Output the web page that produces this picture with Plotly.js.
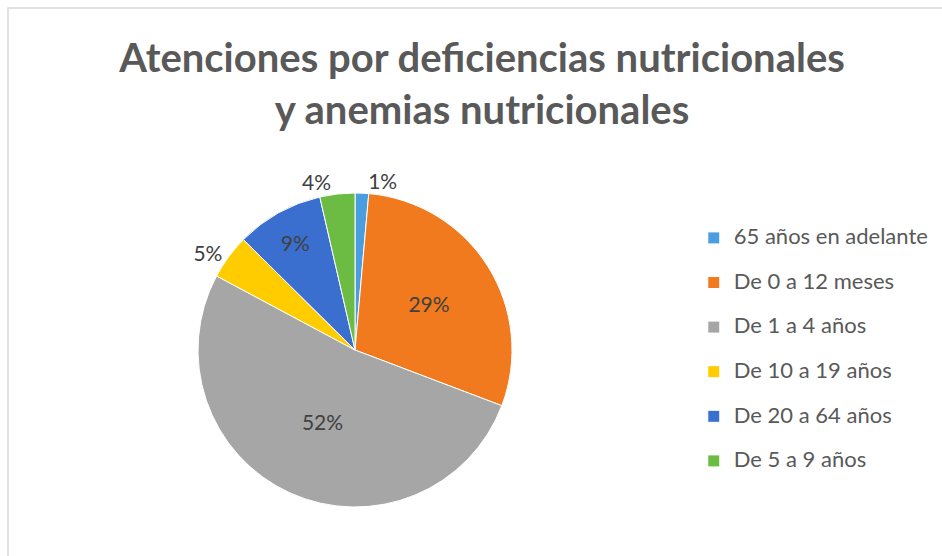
<!DOCTYPE html>
<html>
<head>
  <meta charset="utf-8">
  <title>Atenciones por deficiencias nutricionales</title>
<script src="https://cdn.jsdelivr.net/npm/plotly.js-dist@3.0.1/plotly.min.js"></script>
  <style>body { margin: 0; }</style>
</head>
<body>
  <div id="graph"></div>
  <script>
    // slices, clockwise from 12 o'clock
    const grupos = ['65 años en adelante', 'De 0 a 12 meses', 'De 1 a 4 años',
                    'De 10 a 19 años', 'De 20 a 64 años', 'De 5 a 9 años'];
    const porcentajes = [1.4, 29.4, 52.1, 4.6, 9.0, 3.6];
    const colores = ['#4a9ee0', '#f27a1e', '#a6a6a6', '#ffcc00', '#3a6fcf', '#6cbb42'];
    const posTexto = ['outside', 'inside', 'inside', 'outside', 'inside', 'outside'];

    const W = 942, H = 556;

    // legend base font is small so two-line entries give the wide row spacing
    const etiquetas = grupos.map(g => '<span style="font-size:22px">' + g + '</span><br> ');

    const data = [{
      type: 'pie',
      labels: etiquetas,
      values: porcentajes,
      sort: false,
      direction: 'clockwise',
      rotation: 0,
      marker: { colors: colores, line: { color: '#ffffff', width: 1 } },
      texttemplate: '%{percent:.0%}',
      textposition: posTexto,
      textfont: { family: 'Lato', size: 21, color: '#404040' },
      insidetextorientation: 'horizontal',
      hoverinfo: 'percent',
      domain: { x: [198 / W, 512 / W], y: [1 - 507 / H, 1 - 193 / H] }
    }];

    const layout = {
      width: W, height: H,
      margin: { l: 0, r: 0, t: 0, b: 0 },
      paper_bgcolor: '#ffffff',
      font: { family: 'Lato', color: '#595959' },
      title: {
        text: '<b>Atenciones por deficiencias nutricionales<br>y anemias nutricionales</b>',
        font: { family: 'Lato', size: 40, color: '#595959' },
        x: 482 / W, xanchor: 'center',
        y: 1 - 72 / H, yanchor: 'middle'
      },
      showlegend: true,
      legend: {
        x: 0.7365, xanchor: 'left',
        y: 1 - 221 / H, yanchor: 'top',
        valign: 'top',
        font: { family: 'Lato', size: 16, color: '#595959' },
        bgcolor: 'rgba(0,0,0,0)'
      },
      shapes: [{
        type: 'rect', xref: 'paper', yref: 'paper',
        x0: 8 / W, x1: 1.01, y0: -0.01, y1: 1 - 8 / H,
        line: { color: '#d9d9d9', width: 1.5 }
      }]
    };

    Plotly.newPlot('graph', data, layout, { displayModeBar: false });
  </script>
</body>
</html>
